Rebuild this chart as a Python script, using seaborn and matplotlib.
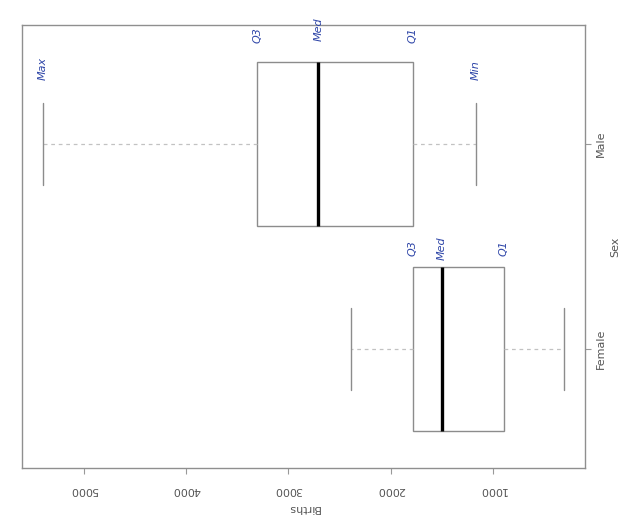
import pandas as pd
import matplotlib
matplotlib.use("Agg")
import matplotlib.pyplot as plt
import seaborn as sns

# -------------- Data

sexes = ["Male", "Female"]
# five-number summaries: min, Q1, median, Q3, max
male_births = [1167, 1784, 2706, 3304, 5402]
female_births = [304, 892, 1500, 1784, 2392]
tick_values = [1000, 2000, 3000, 4000, 5000]
note_labels = ["Min", "Q1", "Med", "Q3", "Max"]

df = pd.DataFrame({
    "Sex": ["Male"] * len(male_births) + ["Female"] * len(female_births),
    "Births": male_births + female_births,
})

# -------------- Plot

sns.set_style("white")
plt.rcParams['font.family'] = ['DejaVu Sans']

fig = plt.figure(figsize=(6.26, 5.27), dpi=100)
ax = fig.add_axes([0.035, 0.112, 0.8995, 0.8406])

sns.boxplot(data=df, x="Births", y="Sex", order=sexes, orient="h",
            width=0.8, color="white", linecolor="#8c8c8c", linewidth=1,
            whis=1.5, fliersize=0,
            medianprops=dict(color="black", linewidth=2.4),
            whiskerprops=dict(color="#c2c2c2", linestyle=(0, (3, 3)), linewidth=0.9),
            capprops=dict(color="#8c8c8c", linewidth=1),
            ax=ax)

# value axis: reversed, labels upside down
ax.set_xlim(5606, 100)
ax.set_xticks(tick_values)
ax.set_xticklabels([str(t) for t in tick_values], rotation=180)
ax.set_xlabel("Births", rotation=180, fontsize=8, color="#555555", labelpad=6)

# category axis on the right, labels turned
ax.set_ylim(1.58, -0.58)
ax.yaxis.tick_right()
ax.yaxis.set_label_position("right")
ax.set_yticks(range(len(sexes)))
ax.set_yticklabels(sexes, rotation=90, va="center")
ax.set_ylabel("Sex", rotation=90, fontsize=8, color="#555555", labelpad=3)

ax.tick_params(axis="both", direction="out", length=4, width=0.8,
               color="#999999", labelsize=8, labelcolor="#555555")
ax.tick_params(axis="x", bottom=True, pad=8)
ax.tick_params(axis="y", right=True, left=False, pad=4)

for side in ["left", "right", "top", "bottom"]:
    ax.spines[side].set_visible(True)
    ax.spines[side].set_color("#8f8f8f")
    ax.spines[side].set_linewidth(1)

# handwritten-looking notes
blue = "#2f46a8"
male_offsets = [-0.36, -0.53, -0.56, -0.53, -0.37]
for lab, val, off in zip(note_labels, male_births, male_offsets):
    ax.text(val, 0 + off, lab, rotation=90, color=blue, fontsize=8,
            fontstyle="italic", ha="center", va="center", clip_on=False)
for lab, val in zip(note_labels[1:4], female_births[1:4]):
    ax.text(val, 1 - 0.49, lab, rotation=90, color=blue, fontsize=8,
            fontstyle="italic", ha="center", va="center", clip_on=False)

fig.savefig("out.png", dpi=100, facecolor="white")
